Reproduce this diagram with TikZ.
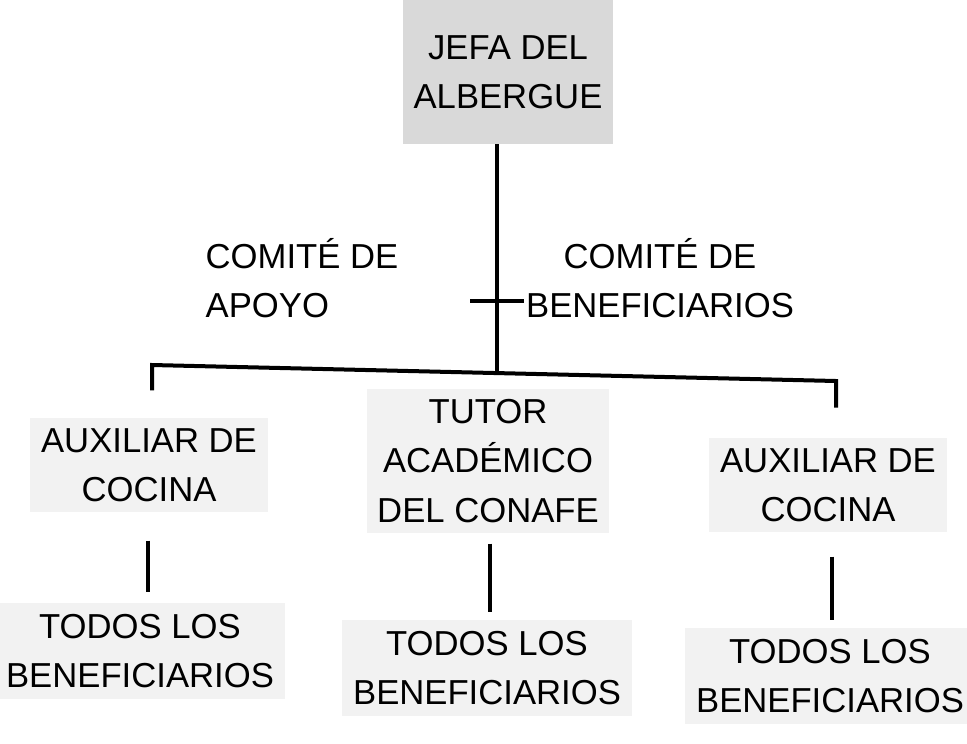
\documentclass[tikz,border=0pt]{standalone}
\usepackage{fontspec}
\setmainfont{Liberation Sans}
\usetikzlibrary{positioning}

\begin{document}
\begin{tikzpicture}[x=0.75pt,y=-0.75pt,
    txt/.style={draw=none,fill=gray!10,align=center,inner sep=8pt,font=\fontsize{26}{37}\selectfont},
    ln/.style={line width=3pt,black}]
    \useasboundingbox (0,0) rectangle (967,743);
    \node[txt,fill=gray!30,minimum width=148pt,minimum height=108pt] (jefa) at (508,72) {JEFA DEL\\ALBERGUE};
    \node[txt,fill=none,align=left] (apoyo) at (302,278) {COMITÉ DE\\APOYO};
    \node[txt,fill=none] (benef) at (660,278) {COMITÉ DE\\BENEFICIARIOS};
    \node[txt] (aux1) at (149,465) {AUXILIAR DE\\COCINA};
    \node[txt] (tutor) at (488,461) {TUTOR\\ACADÉMICO\\DEL CONAFE};
    \node[txt] (aux2) at (828,485) {AUXILIAR DE\\COCINA};
    \node[txt] (todos1) at (140,651) {TODOS LOS\\BENEFICIARIOS};
    \node[txt] (todos2) at (487,668) {TODOS LOS\\BENEFICIARIOS};
    \node[txt] (todos3) at (830,676) {TODOS LOS\\BENEFICIARIOS};
    \coordinate (j) at (497,373);
    \coordinate (t) at (497,301);
    \coordinate (hl) at (152,365);
    \coordinate (hr) at (836,381);
    \draw[ln] (jefa.south -| j)--(j);
    \draw[line width=2.5pt] (t) ++(-27,0)--++(54,0);
    \draw[ln] ([yshift=-19pt]hl)--(hl)--(hr)--([yshift=-20pt]hr);
    \draw[ln] (aux1.south -| 148,0) ++(0,28)--([yshift=8pt]todos1.north -| 148,0);
    \draw[ln] (tutor.south -| 490,0) ++(0,10)--([yshift=6pt]todos2.north -| 490,0);
    \draw[ln] (aux2.south -| 832,0) ++(0,24)--([yshift=6pt]todos3.north -| 832,0);
\end{tikzpicture}
\end{document}
